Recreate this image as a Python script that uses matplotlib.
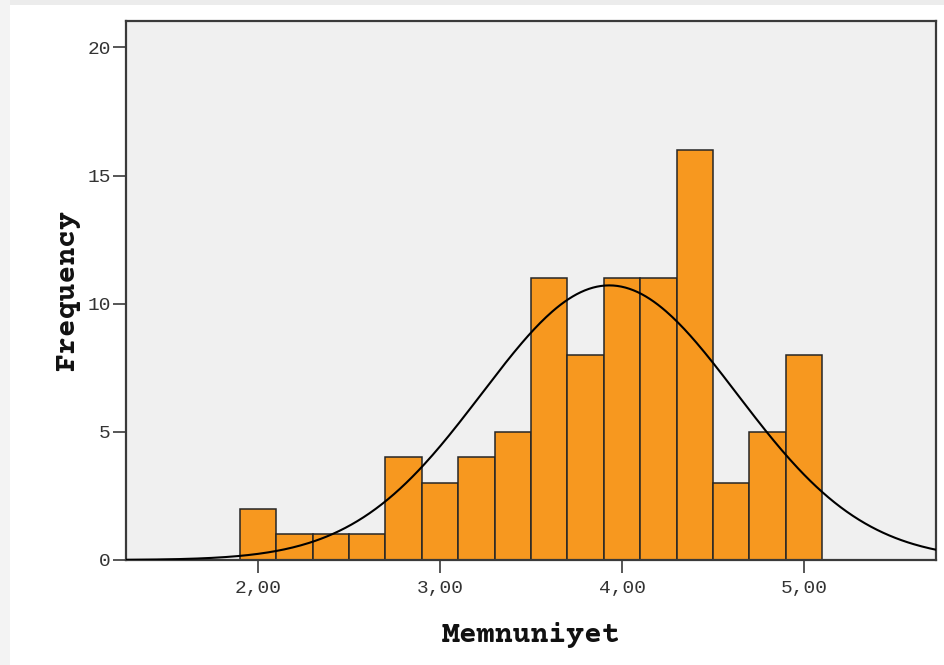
import numpy as np
import matplotlib
matplotlib.use("Agg")
import matplotlib.pyplot as plt
from matplotlib.patches import Rectangle

# Memnuniyet histogram, bins of 0.20
bin_centers = [2.0, 2.2, 2.4, 2.6, 2.8, 3.0, 3.2, 3.4, 3.6, 3.8, 4.0, 4.2, 4.4, 4.6, 4.8, 5.0]
frequencies = [2, 1, 1, 1, 4, 3, 4, 5, 11, 8, 11, 11, 16, 3, 5, 8]
bin_width = 0.2

# normal curve parameters
mean_score = 3.93
std_score = 0.70

x_ticks = [2.0, 3.0, 4.0, 5.0]
x_tick_labels = ["2,00", "3,00", "4,00", "5,00"]
y_ticks = [0, 5, 10, 15, 20]

BAR_COLOR = "#F7981F"
FRAME = "#3a3a3a"
LABEL_FONT = ["Courier Prime", "Liberation Mono", "DejaVu Sans Mono"]
TICK_FONT = ["Liberation Mono", "DejaVu Sans Mono"]

fig = plt.figure(figsize=(9.44, 6.65), dpi=100)
fig.patch.set_facecolor("white")
# light grey border strips of the window
fig.patches.append(Rectangle((0, 1 - 5 / 665), 1, 5 / 665, transform=fig.transFigure,
                             facecolor="#ececec", edgecolor="none", zorder=0))
fig.patches.append(Rectangle((0, 0), 10 / 944, 1, transform=fig.transFigure,
                             facecolor="#f3f3f3", edgecolor="none", zorder=0))

ax = fig.add_axes([126 / 944, 1 - 560 / 665, 810 / 944, 539 / 665])
ax.set_facecolor("#f0f0f0")

ax.bar(bin_centers, frequencies, width=bin_width, color=BAR_COLOR,
       edgecolor="#262626", linewidth=1.1, zorder=2)

n_total = sum(frequencies)
xs = np.linspace(1.275, 5.725, 400)
ys = n_total * bin_width * np.exp(-0.5 * ((xs - mean_score) / std_score) ** 2) / (std_score * np.sqrt(2 * np.pi))
ax.plot(xs, ys, color="black", linewidth=1.5, zorder=3)

ax.set_xlim(1.275, 5.725)
ax.set_ylim(0, 21.03)

ax.set_xticks(x_ticks)
ax.set_xticklabels(x_tick_labels)
ax.set_yticks(y_ticks)

for sp in ax.spines.values():
    sp.set_color(FRAME)
    sp.set_linewidth(1.6)

ax.tick_params(axis="both", direction="out", length=9.5, width=1.2, color=FRAME,
               labelcolor="#333333")
ax.tick_params(axis="x", pad=5)
ax.tick_params(axis="y", pad=1.5)
for lbl in ax.get_xticklabels() + ax.get_yticklabels():
    lbl.set_family(TICK_FONT)
    lbl.set_fontsize(14)

ax.set_xlabel("Memnuniyet", family=LABEL_FONT, fontweight="bold",
              fontsize=21.5, color="#111111", labelpad=18)
ax.set_ylabel("Frequency", family=LABEL_FONT, fontweight="bold",
              fontsize=21.5, color="#111111", labelpad=5)

fig.savefig("out.png", dpi=100, facecolor=fig.get_facecolor())
